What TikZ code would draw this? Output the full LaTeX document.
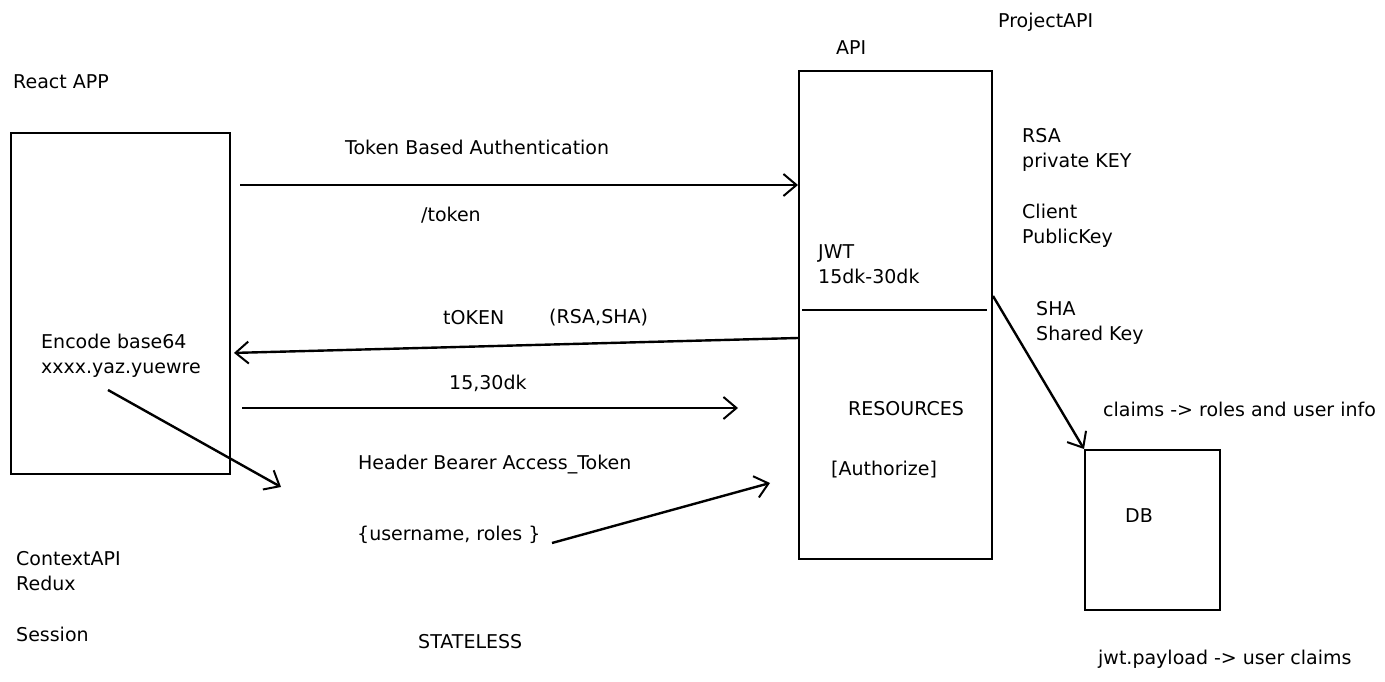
\documentclass[tikz,border=0pt]{standalone}
\usepackage{fontspec}
\setmainfont{DejaVu Sans}
\usetikzlibrary{arrows.meta,positioning}
\tikzset{
  box/.style={draw, line width=2pt, anchor=north west, inner sep=0pt},
  txt/.style={anchor=west, inner sep=0pt, align=left,
    font=\fontsize{19}{25}\selectfont},
  flow/.style={line width=2.4pt,
    -{Straight Barb[length=13pt,width=22pt,line width=2pt]}},
}
\begin{document}
\begin{tikzpicture}[x=1pt,y=-1pt]
  \useasboundingbox (0,0) rectangle (1385,682);
  % boxes
  \node[box, minimum width=219pt, minimum height=341pt] (react) at (10,132) {};
  \node[box, minimum width=193pt, minimum height=488pt] (api) at (798,70) {};
  \node[box, minimum width=135pt, minimum height=160pt] (db) at (1084,449) {};
  \draw[line width=2.4pt] (api.west |- 0,310) -- (api.east |- 0,310)
    [shorten <=4pt, shorten >=6pt];
  % titles
  \node[txt] (reactlbl) at (13,82) {React APP};
  \node[txt] (apilbl) at (836,48) {API};
  \node[txt] (projlbl) at (998,22) {ProjectAPI};
  \node[txt] (dblbl) at (1125,516) {DB};
  % left side
  \node[txt] (encode) at (41,356) {Encode base64\\xxxx.yaz.yuewre};
  \node[txt] (context) at (16,571) {ContextAPI\\Redux};
  \node[txt] (session) at (16,634) {Session};
  % api side
  \node[txt] (jwt) at (818,264) {JWT\\15dk-30dk};
  \node[txt] (rsa) at (1022,150) {RSA\\private KEY};
  \node[txt] (client) at (1022,226) {Client\\PublicKey};
  \node[txt] (sha) at (1036,323) {SHA\\Shared Key};
  \node[txt] (res) at (848,409) {RESOURCES};
  \node[txt] (authz) at (831,470) {[Authorize]};
  \node[txt] (claims) at (1103,409) {claims -> roles and user info};
  \node[txt] (payload) at (1098,659) {jwt.payload -> user claims};
  % arrow labels
  \node[txt] (tba) at (345,147) {Token Based Authentication};
  \node[txt] (tokpath) at (421,215) {/token};
  \node[txt] (tokback) at (443,318) {tOKEN};
  \node[txt] (alg) at (549,318) {(RSA,SHA)};
  \node[txt] (exp) at (449,383) {15,30dk};
  \node[txt] (bearer) at (358,465) {Header Bearer Access\_Token};
  \node[txt] (userroles) at (357,535) {\{username, roles \}};
  \node[txt] (stateless) at (418,642) {STATELESS};
  % free ends
  \coordinate (encfoot) at (108,390);
  \coordinate (bearerin) at (281,487);
  \coordinate (resin) at (738,408);
  \coordinate (userout) at (552,543);
  \coordinate (authin) at (770,483);
  % connectors
  \draw[flow, shorten <=9pt] (react.east |- 0,185) -- (api.west |- 0,185);
  \draw[flow, shorten >=3pt] (api.west |- 0,338) -- (react.east |- 0,353);
  \draw[flow, shorten <=11pt] (react.east |- 0,408) -- (resin);
  \draw[flow] (encfoot) -- (bearerin);
  \draw[flow] (userout) -- (authin);
  \draw[flow] (api.east |- 0,296) -- (db.north west);
\end{tikzpicture}
\end{document}
